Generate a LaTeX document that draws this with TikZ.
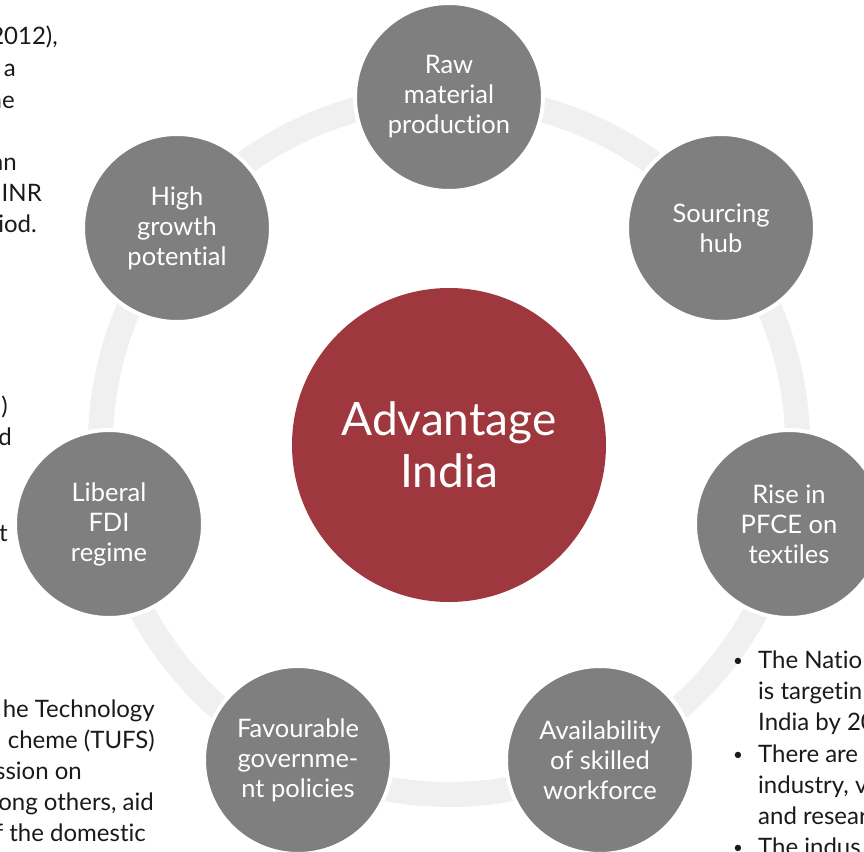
\documentclass[tikz,border=0pt]{standalone}
\usepackage{fontspec}
\setmainfont{Lato}[Ligatures={NoCommon,NoRare,NoDiscretionary}]
\usepackage{tikz}
\usetikzlibrary{backgrounds}

\definecolor{ringgray}{RGB}{240,240,240}
\definecolor{nodegray}{RGB}{127,127,127}
\definecolor{indiared}{RGB}{158,56,62}
\definecolor{bodytext}{RGB}{26,26,26}

\begin{document}
\begin{tikzpicture}[x=1pt, y=-1pt,
    factor/.style={circle, fill=nodegray, draw=white, line width=4pt, minimum size=188pt,
      inner sep=0pt, align=center, text=white, font=\fontsize{25.5}{30}\selectfont},
    hub/.style={circle, fill=indiared, minimum size=314pt, inner sep=0pt, align=center,
      text=white, font=\fontsize{46}{52}\selectfont},
    ring/.style={draw=ringgray, line width=25pt, bend left=25.7, looseness=0.9},
    leftfrag/.style={anchor=base east, inner sep=0pt, text=bodytext, font=\fontsize{24}{31}\selectfont},
    rightfrag/.style={anchor=base west, inner sep=0pt, text=bodytext, font=\fontsize{24}{31}\selectfont},
    bulletmark/.style={anchor=base west, inner sep=0pt, text=bodytext, font=\fontsize{17}{20}\selectfont}]

        \clip (0,0) rectangle (864,851);

        % text cut off by the slide crop
        \node[leftfrag] (l1) at (58,45) {2012),};
        \node[leftfrag] (l2) at (16,77) {a};
        \node[leftfrag] (l3) at (15,108) {ne};
        \node[leftfrag] (l4) at (17,170) {an};
        \node[leftfrag] (l5) at (42,201) {INR};
        \node[leftfrag] (l6) at (37,232) {iod.};
        \node[leftfrag] (m1) at (8,414) {)};
        \node[leftfrag] (m2) at (12,445) {d};
        \node[leftfrag] (m3) at (8,541) {t};
        \node[leftfrag] (b1) at (155,717) {he Technology};
        \node[leftfrag] (b2) at (155,748) {cheme (TUFS)};
        \node[leftfrag] (b3) at (82,779) {ssion on};
        \node[leftfrag] (b4) at (154,810) {ong others, aid};
        \node[leftfrag] (b5) at (146,841) {f the domestic};

        \node[bulletmark] (dot1) at (733,666) {•};
        \node[rightfrag] (r1) at (758,668) {The Natio};
        \node[rightfrag] (r2) at (758,699) {is targetin};
        \node[rightfrag] (r3) at (758,730) {India by 20};
        \node[bulletmark] (dot2) at (733,760) {•};
        \node[rightfrag] (r4) at (758,762) {There are};
        \node[rightfrag] (r5) at (758,793) {industry, v};
        \node[rightfrag] (r6) at (758,824) {and resear};
        \node[bulletmark] (dot3) at (733,853) {•};
        \node[rightfrag] (r7) at (758,855) {The indus};

        % the cycle
        \node[hub] (india) at (449,445) {Advantage\\India};
        \node[factor] (raw) at (449,97) {Raw\\material\\production};
        \node[factor] (sourcing) at (721,228) {Sourcing\\hub};
        \node[factor] (pfce) at (789,524) {Rise in\\PFCE on\\textiles};
        \node[factor] (skilled) at (600,760) {Availability\\of skilled\\workforce};
        \node[factor] (policy) at (298,760) {Favourable\\governme-\\nt policies};
        \node[factor] (fdi) at (109,524) {Liberal\\FDI\\regime};
        \node[factor] (growth) at (177,228) {High\\growth\\potential};

        \begin{pgfonlayer}{background}
            \draw[ring] (raw.center) to (sourcing.center);
            \draw[ring] (sourcing.center) to (pfce.center);
            \draw[ring] (pfce.center) to (skilled.center);
            \draw[ring] (skilled.center) to (policy.center);
            \draw[ring] (policy.center) to (fdi.center);
            \draw[ring] (fdi.center) to (growth.center);
            \draw[ring] (growth.center) to (raw.center);
        \end{pgfonlayer}
    \end{tikzpicture}
\end{document}
